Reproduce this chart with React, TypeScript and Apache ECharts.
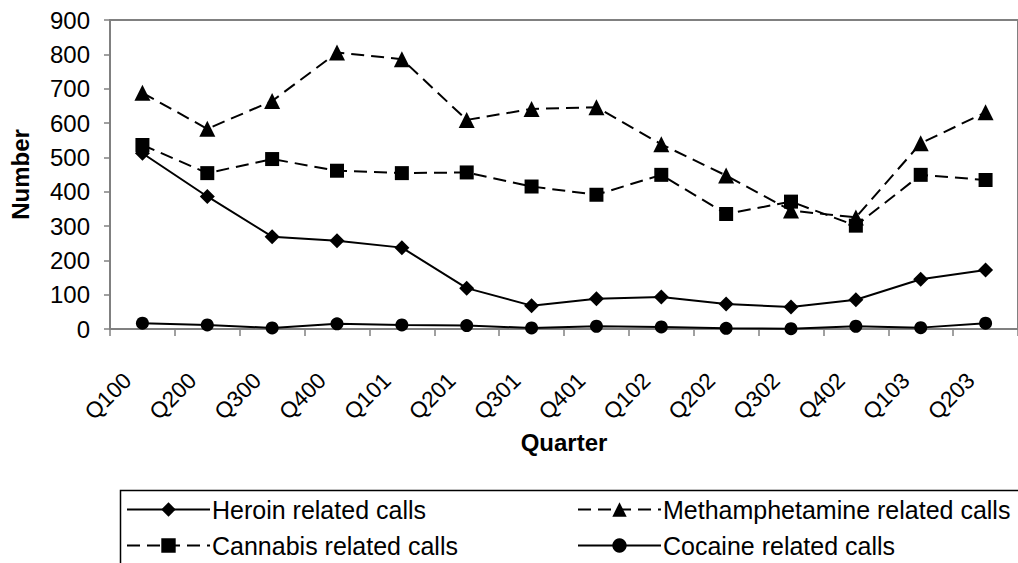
import React, { useEffect, useRef } from "react";
import * as echarts from "echarts";

const quarters = ["Q100", "Q200", "Q300", "Q400", "Q101", "Q201", "Q301", "Q401", "Q102", "Q202", "Q302", "Q402", "Q103", "Q203"];
const heroin = [512, 386, 269, 257, 237, 119, 68, 88, 93, 73, 64, 85, 145, 172];
const meth = [688, 583, 664, 805, 786, 609, 641, 646, 538, 447, 345, 325, 541, 631];
const cannabis = [536, 454, 495, 461, 454, 456, 415, 391, 449, 335, 371, 301, 449, 434];
const cocaine = [17, 12, 3, 15, 12, 10, 3, 8, 6, 2, 1, 8, 4, 17];
const yTicks = { min: 0, max: 900, interval: 100 };

const FONT = "'Liberation Sans', Arial, sans-serif";

export default function App() {
  const ref = useRef<HTMLDivElement>(null);
  useEffect(() => {
    if (!ref.current) return;
    const chart = echarts.init(ref.current, null, { renderer: "svg" });
    const dash = [13, 7];
    const mk = (name: string, data: number[], symbol: string, size: number, dashed: boolean) => ({
      name,
      type: "line",
      data,
      symbol,
      symbolSize: size,
      showAllSymbol: true,
      itemStyle: { color: "#000" },
      lineStyle: { color: "#000", width: 2, type: dashed ? dash : "solid" },
      z: 3,
    });
    const legendCommon = {
      orient: "vertical",
      top: 497,
      itemWidth: 83,
      itemHeight: 18,
      itemGap: 11,
      textStyle: { fontFamily: FONT, fontSize: 25, color: "#000", lineHeight: 25, padding: [0, 0, 0, -3] },
      padding: 0,
      selectedMode: false,
    };
    chart.setOption({
      animation: false,
      textStyle: { fontFamily: FONT },
      grid: {
        left: 110,
        top: 20,
        right: -10,
        bottom: 234,
        show: true,
        borderColor: "#808080",
        borderWidth: 2,
        containLabel: false,
      },
      xAxis: {
        type: "category",
        data: quarters,
        boundaryGap: true,
        name: "Quarter",
        nameLocation: "middle",
        nameGap: 101,
        nameMoveOverlap: false,
        nameTextStyle: { fontFamily: FONT, fontSize: 24, fontWeight: "bold", color: "#000" },
        axisLine: { lineStyle: { color: "#808080", width: 2 } },
        axisTick: { show: true, interval: 0, length: 7, lineStyle: { color: "#808080", width: 1.5 } },
        axisLabel: {
          interval: 0,
          rotate: 45,
          margin: 33,
          padding: [0, 21, 0, 0],
          fontSize: 22.5,
          color: "#000",
          fontFamily: FONT,
        },
        splitLine: { show: false },
      },
      yAxis: {
        type: "value",
        min: yTicks.min,
        max: yTicks.max,
        interval: yTicks.interval,
        name: "Number",
        nameLocation: "middle",
        nameGap: 78,
        nameMoveOverlap: false,
        nameTextStyle: { fontFamily: FONT, fontSize: 24, fontWeight: "bold", color: "#000" },
        axisLine: { show: true, lineStyle: { color: "#808080", width: 2 } },
        axisTick: { show: true, length: 6, lineStyle: { color: "#808080", width: 1.5 } },
        axisLabel: { margin: 20, fontSize: 24, color: "#000", fontFamily: FONT },
        splitLine: { show: false },
      },
      legend: [
        { ...legendCommon, data: ["Heroin related calls", "Cannabis related calls"], left: 126 },
        { ...legendCommon, data: ["Methamphetamine related calls", "Cocaine related calls"], left: 577 },
      ],
      graphic: [
        {
          type: "rect",
          left: 118,
          top: 488,
          shape: { width: 950, height: 120 },
          style: { fill: "none", stroke: "#000", lineWidth: 1.5 },
          silent: true,
        },
      ],
      series: [
        mk("Heroin related calls", heroin, "diamond", 15, false),
        mk("Methamphetamine related calls", meth, "triangle", 16, true),
        mk("Cannabis related calls", cannabis, "rect", 14, true),
        mk("Cocaine related calls", cocaine, "circle", 13, false),
      ],
    });
    return () => chart.dispose();
  }, []);
  return (
    <div
      ref={ref}
      style={{ position: "fixed", left: 0, top: 0, width: 1018, height: 563, background: "#fff" }}
    />
  );
}
